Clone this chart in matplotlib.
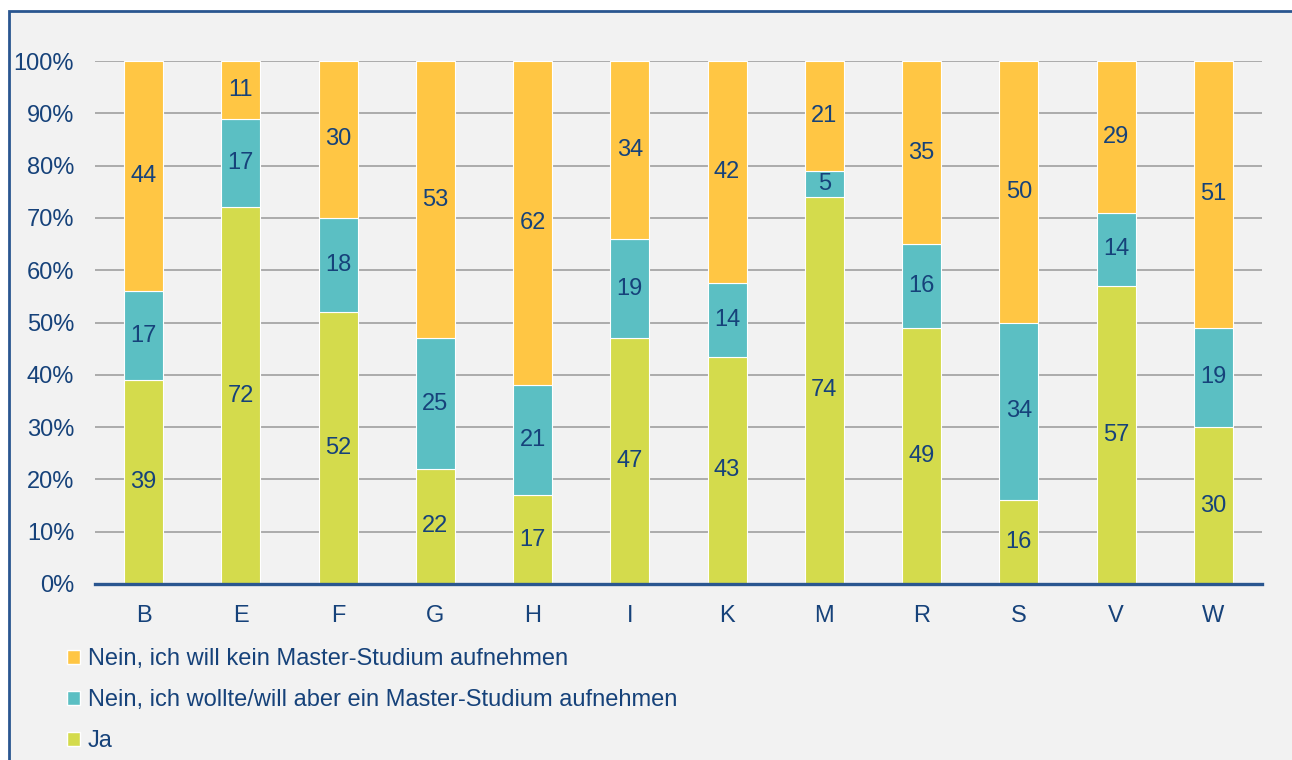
import numpy as np
import matplotlib.pyplot as plt
from matplotlib.patches import Rectangle, Patch

plt.rcParams['font.family'] = ['Liberation Sans', 'DejaVu Sans']

# data
categories = ['B', 'E', 'F', 'G', 'H', 'I', 'K', 'M', 'R', 'S', 'V', 'W']
ja = [39, 72, 52, 22, 17, 47, 43, 74, 49, 16, 57, 30]
nein_aber = [17, 17, 18, 25, 21, 19, 14, 5, 16, 34, 14, 19]
nein_kein = [44, 11, 30, 53, 62, 34, 42, 21, 35, 50, 29, 51]

label_kein = 'Nein, ich will kein Master-Studium aufnehmen'
label_aber = 'Nein, ich wollte/will aber ein Master-Studium aufnehmen'
label_ja = 'Ja'

c_green = '#d4db4c'
c_teal = '#5bbfc3'
c_yellow = '#ffc644'
c_text = '#16427a'
c_frame = '#2a5690'
fs = 17

fig = plt.figure(figsize=(12.92, 7.6), dpi=100)
fig.patch.set_facecolor('white')

# grauer Hintergrund mit blauem Rahmen
frame = Rectangle((9 / 1292, -0.05), 1.1, (1 - 11 / 760) + 0.05,
                  transform=fig.transFigure, facecolor='#f2f2f2',
                  edgecolor=c_frame, linewidth=2, zorder=-10)
fig.patches.append(frame)

ax = fig.add_axes([95 / 1292, 1 - 584 / 760, (1262 - 95) / 1292, (584 - 61) / 760])
ax.set_facecolor('none')
ax.set_zorder(2)

ja_a = np.array(ja, dtype=float)
ab_a = np.array(nein_aber, dtype=float)
ke_a = np.array(nein_kein, dtype=float)
tot = ja_a + ab_a + ke_a
p_ja = ja_a / tot
p_ab = ab_a / tot
p_ke = ke_a / tot

x = np.arange(len(categories))
w = 0.40
kw = dict(width=w, edgecolor='white', linewidth=0.8, zorder=3)
ax.bar(x, p_ja, color=c_green, **kw)
ax.bar(x, p_ab, bottom=p_ja, color=c_teal, **kw)
ax.bar(x, p_ke, bottom=p_ja + p_ab, color=c_yellow, **kw)

for i in range(len(categories)):
    ax.text(x[i], p_ja[i] / 2, str(ja[i]), ha='center', va='center',
            fontsize=fs, color=c_text, zorder=4)
    ax.text(x[i], p_ja[i] + p_ab[i] / 2, str(nein_aber[i]), ha='center', va='center',
            fontsize=fs, color=c_text, zorder=4)
    ax.text(x[i], p_ja[i] + p_ab[i] + p_ke[i] / 2, str(nein_kein[i]), ha='center',
            va='center', fontsize=fs, color=c_text, zorder=4)

ax.set_xlim(-0.5, len(categories) - 0.5)
ax.set_ylim(0, 1)
ax.set_yticks(np.arange(0, 1.01, 0.1))
ax.set_yticklabels(['{}%'.format(int(round(v * 100))) for v in np.arange(0, 1.01, 0.1)])
ax.set_xticks(x)
ax.set_xticklabels(categories)
ax.tick_params(axis='both', length=0, labelsize=fs, labelcolor=c_text)
ax.tick_params(axis='y', pad=15)
ax.tick_params(axis='x', pad=15)

ax.grid(axis='y', color='#a6a6a6', linewidth=1.3, zorder=1)
ax.set_axisbelow(True)
for s in ['left', 'right', 'top']:
    ax.spines[s].set_visible(False)
ax.spines['bottom'].set_color(c_frame)
ax.spines['bottom'].set_linewidth(2.4)
ax.spines['bottom'].set_zorder(5)

handles = [Patch(facecolor=c_yellow, edgecolor='white', label=label_kein),
           Patch(facecolor=c_teal, edgecolor='white', label=label_aber),
           Patch(facecolor=c_green, edgecolor='white', label=label_ja)]
leg = fig.legend(handles=handles, loc='upper left', bbox_to_anchor=(58 / 1292, 1 - 639 / 760),
                 frameon=False, fontsize=fs, handlelength=0.55, handleheight=0.55,
                 handletextpad=0.3, labelspacing=0.8, borderaxespad=0)
for t in leg.get_texts():
    t.set_color(c_text)

plt.savefig('out.png', dpi=100, facecolor=fig.get_facecolor())
